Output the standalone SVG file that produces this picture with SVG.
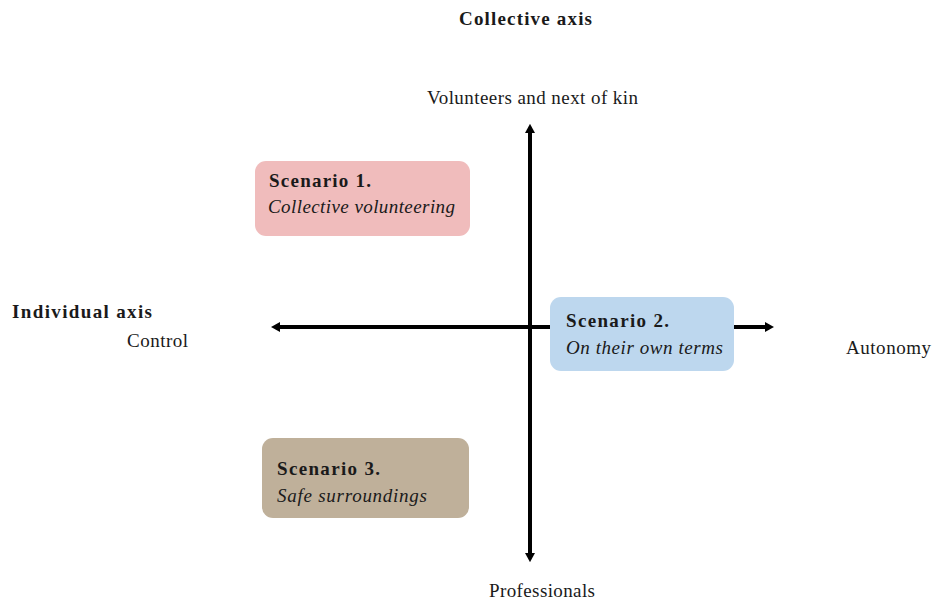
<svg xmlns="http://www.w3.org/2000/svg" width="934" height="601" viewBox="0 0 934 601">
<defs>
<style>
text{font-family:"Liberation Serif","Times New Roman",serif;fill:#1a1a1a;}
.t{font-size:19px;}
.b{font-size:19px;font-weight:bold;}
.i{font-size:19px;font-style:italic;}
.ax{stroke:#000;stroke-width:4;fill:none;}
</style>
<marker id="ah" markerWidth="2.4" markerHeight="2.6" refX="0.6" refY="1.3" orient="auto" markerUnits="strokeWidth" viewBox="0 0 2.4 2.6">
<path d="M0,0 L2.4,1.3 L0,2.6 Z" fill="#000"/>
</marker>
</defs>
<rect width="934" height="601" fill="#fff"/>
<g id="connectors">
<line class="ax" x1="530" y1="330" x2="530" y2="131" marker-end="url(#ah)"/>
<line class="ax" x1="530" y1="325" x2="530" y2="555" marker-end="url(#ah)"/>
<line class="ax" x1="530" y1="327" x2="278" y2="327" marker-end="url(#ah)"/>
<line class="ax" x1="530" y1="327" x2="767" y2="327" marker-end="url(#ah)"/>
</g>
<g id="s1">
<rect x="255" y="161" width="215" height="75" rx="11" fill="#f0bcbc"/>
<text class="b" x="269" y="187" textLength="102">Scenario 1.</text>
<text class="i" x="268" y="213" textLength="187">Collective volunteering</text>
</g>
<g id="s2">
<rect x="550" y="297" width="184" height="74" rx="11" fill="#bdd7ee"/>
<text class="b" x="566" y="327" textLength="103">Scenario 2.</text>
<text class="i" x="566" y="354" textLength="157">On their own terms</text>
</g>
<g id="s3">
<rect x="262" y="438" width="207" height="80" rx="11" fill="#bfb09a"/>
<text class="b" x="277" y="475" textLength="103">Scenario 3.</text>
<text class="i" x="277" y="502" textLength="150">Safe surroundings</text>
</g>
<g id="labels">
<text class="b" x="459" y="25" textLength="133">Collective axis</text>
<text class="t" x="427" y="104" textLength="211">Volunteers and next of kin</text>
<text class="b" x="12" y="318" textLength="140">Individual axis</text>
<text class="t" x="127" y="347" textLength="61">Control</text>
<text class="t" x="846" y="354" textLength="85">Autonomy</text>
<text class="t" x="489" y="597" textLength="106">Professionals</text>
</g>
</svg>
